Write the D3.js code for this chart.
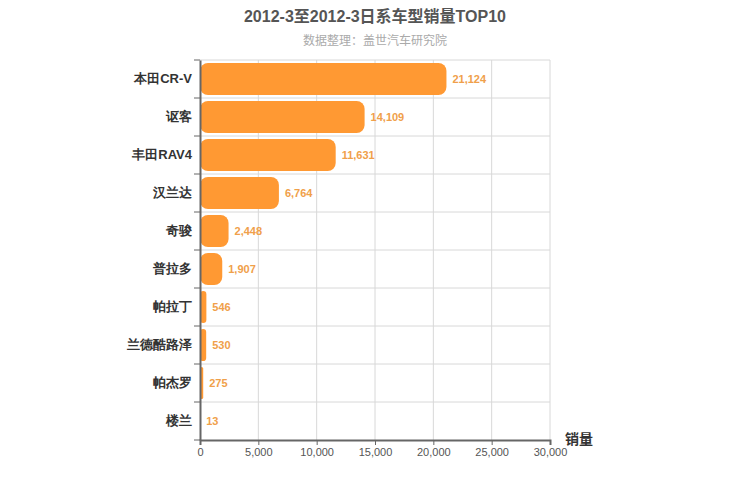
<!DOCTYPE html>
<html><head><meta charset="utf-8">
<script src="https://cdn.jsdelivr.net/npm/d3@7"></script>
<style>body{margin:0;background:#fff;font-family:"Liberation Sans","Noto Sans CJK SC",sans-serif}</style>
</head><body><div id="chart"></div>
<script>
const categories = ["本田CR-V","讴歌".length?"讴客":"","丰田RAV4","汉兰达","奇骏","普拉多","帕拉丁","兰德酷路泽","帕杰罗","楼兰"];
categories[1] = "讴客";
const sales = [21124,14109,11631,6764,2448,1907,546,530,275,13];
const xTicks = [0,5000,10000,15000,20000,25000,30000];

const width = 750, height = 500;
const margin = {top: 60, right: 200, bottom: 60, left: 200};
const svg = d3.select("#chart").append("svg").attr("width", width).attr("height", height);

const x = d3.scaleLinear().domain([0,30000]).range([margin.left, width - margin.right]);
const y = d3.scaleBand().domain(categories).range([margin.top, height - margin.bottom]);

svg.append("text").attr("x",375).attr("y",22).attr("text-anchor","middle")
  .attr("font-size",16).attr("font-weight","bold").attr("fill","#555")
  .text("2012-3至2012-3日系车型销量TOP10");
svg.append("text").attr("x",375).attr("y",45).attr("text-anchor","middle")
  .attr("font-size",12).attr("fill","#aaa").text("数据整理：盖世汽车研究院");

// grid
svg.append("g").selectAll("line").data(xTicks.slice(1)).join("line")
  .attr("x1",d=>x(d)).attr("x2",d=>x(d)).attr("y1",margin.top).attr("y2",height-margin.bottom)
  .attr("stroke","#d8d8d8");
svg.append("g").selectAll("line").data(categories).join("line")
  .attr("x1",x(0)).attr("x2",x(30000)).attr("y1",d=>y(d)).attr("y2",d=>y(d))
  .attr("stroke","#d8d8d8");

// bars
svg.append("g").selectAll("rect").data(sales).join("rect")
  .attr("x",x(0)).attr("y",(d,i)=>y(categories[i])+3)
  .attr("width",d=>x(d)-x(0)).attr("height",y.bandwidth()-6)
  .attr("rx",d=>Math.min(8,(x(d)-x(0))/2)).attr("fill","#ff9933");

svg.append("g").selectAll("text").data(sales).join("text")
  .attr("x",d=>x(d)+6).attr("y",(d,i)=>y(categories[i])+y.bandwidth()/2+4)
  .attr("font-size",11).attr("font-weight","bold").attr("fill","#f0a04a")
  .text(d=>d3.format(",")(d));

// axes
const xAxis = svg.append("g").attr("transform",`translate(0,${height-margin.bottom})`)
  .call(d3.axisBottom(x).tickValues(xTicks).tickFormat(d3.format(",")).tickSize(5));
xAxis.select(".domain").attr("stroke","#666").attr("stroke-width",2);
xAxis.selectAll(".tick line").attr("stroke","#666");
xAxis.selectAll("text").attr("font-size",11).attr("fill","#555").attr("font-family","Liberation Sans");

const yAxis = svg.append("g").attr("transform",`translate(${margin.left},0)`)
  .call(d3.axisLeft(y).tickSize(0).tickPadding(8));
yAxis.select(".domain").attr("stroke","#666").attr("stroke-width",2);
yAxis.selectAll("text").attr("font-size",13).attr("font-weight","bold").attr("fill","#333");
svg.append("g").selectAll("line").data(categories.concat(["_end"])).join("line")
  .attr("x1",margin.left-6).attr("x2",margin.left)
  .attr("y1",d=>d==="_end"?height-margin.bottom:y(d)).attr("y2",d=>d==="_end"?height-margin.bottom:y(d))
  .attr("stroke","#666");

svg.append("text").attr("x",565).attr("y",444).attr("font-size",14).attr("font-weight","bold")
  .attr("fill","#333").text("销量");
</script></body></html>
